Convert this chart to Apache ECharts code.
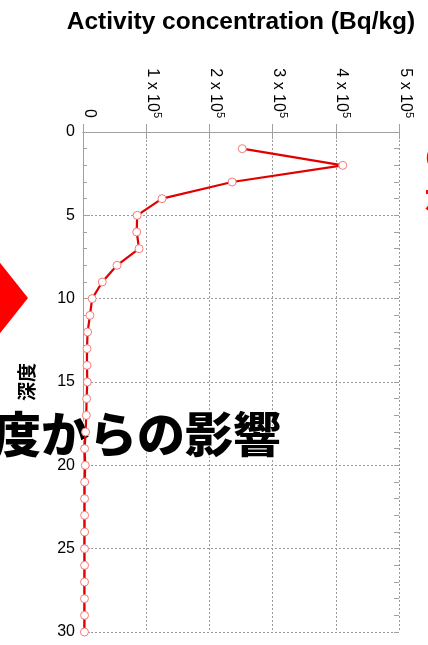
<!DOCTYPE html>
<html>
<head>
<meta charset="utf-8">
<style>
  html, body { margin: 0; padding: 0; background: #fff; }
  #chart { width: 428px; height: 645px; }
</style>
<script src="https://cdn.jsdelivr.net/npm/echarts@6/dist/echarts.min.js"></script>
</head>
<body>
<div id="chart"></div>
<script>
// Depth (sample layer) and activity concentration profile
const depths = [1, 2, 3, 4, 5, 6, 7, 8, 9, 10, 11, 12, 13, 14, 15, 16, 17, 18, 19, 20,
                21, 22, 23, 24, 25, 26, 27, 28, 29, 30];
const activity = [252000, 411000, 236000, 125000, 85700, 85000, 88700, 53800, 30500, 14500,
                  11000, 7300, 6300, 6300, 6800, 5700, 5200, 4100, 2500, 3600,
                  2600, 2500, 2500, 2500, 2400, 2500, 2400, 2300, 2400, 2300];
const xTicks = [0, 100000, 200000, 300000, 400000, 500000];
const yTicks = [0, 5, 10, 15, 20, 25, 30];

const xName = 'Activity concentration (Bq/kg)';
const yName = '深度';
const banner = '度からの影響';

const chart = echarts.init(document.getElementById('chart'), null, { renderer: 'canvas' });

const gray = '#a0a0a0';
const gridLine = { show: true, lineStyle: { color: '#9a9a9a', type: [2, 2], width: 1 } };
const axisGray = { show: true, lineStyle: { color: gray, width: 1 } };
const yMin = yTicks[0], yMax = yTicks[yTicks.length - 1];

function sciLabel(v) {
  if (v === 0) return '{a|0}';
  const m = Math.round(v / 100000);
  return '{a|' + m + ' x 10}{s|5}';
}

// bare tick-only depth axis (ticks every unit, pointing into the plot)
function tickAxis(pos, len) {
  return {
    type: 'value', inverse: true, position: pos, offset: 0,
    min: yMin, max: yMax, interval: 1,
    axisLine: { show: false },
    axisTick: { show: true, inside: true, length: len, lineStyle: { color: gray } },
    axisLabel: { show: false }, splitLine: { show: false }
  };
}

const option = {
  animation: false,
  backgroundColor: '#fff',
  grid: { left: 83, top: 132, right: 29, bottom: 13, containLabel: false },
  xAxis: [
    {
      type: 'value', position: 'top',
      min: xTicks[0], max: xTicks[xTicks.length - 1], interval: 100000,
      name: xName, nameLocation: 'middle', nameGap: 97,
      nameTextStyle: { fontFamily: 'Liberation Sans', fontWeight: 'bold', fontSize: 24.5, color: '#000' },
      axisLine: axisGray,
      axisTick: { show: true, inside: true, length: 7, lineStyle: { color: gray } },
      splitLine: gridLine,
      axisLabel: {
        rotate: -90, margin: 14, formatter: sciLabel, padding: [0, 0, 12, 0],
        rich: {
          a: { fontFamily: 'Liberation Sans', fontSize: 16, color: '#000' },
          s: { fontFamily: 'Liberation Sans', fontSize: 11, color: '#000', padding: [0, 0, 9, 0] }
        }
      }
    },
    {
      type: 'value', position: 'bottom',
      min: xTicks[0], max: xTicks[xTicks.length - 1], interval: 100000,
      axisLine: axisGray,
      axisTick: { show: true, inside: true, length: 8, lineStyle: { color: gray } },
      axisLabel: { show: false }, splitLine: { show: false }
    }
  ],
  yAxis: [
    {
      type: 'value', inverse: true, position: 'left',
      min: yMin, max: yMax, interval: 5,
      name: yName, nameLocation: 'middle', nameGap: 47, nameRotate: 90,
      nameTextStyle: { fontFamily: 'Noto Sans CJK JP', fontWeight: 'bold', fontSize: 19, color: '#000' },
      axisLine: axisGray,
      axisTick: { show: true, inside: true, length: 7, lineStyle: { color: gray } },
      splitLine: gridLine,
      axisLabel: { margin: 8, fontFamily: 'Liberation Sans', fontSize: 16, color: '#000' }
    },
    {
      type: 'value', inverse: true, position: 'right',
      min: yMin, max: yMax, interval: 5,
      axisLine: axisGray,
      axisTick: { show: false },
      axisLabel: { show: false }, splitLine: { show: false }
    },
    tickAxis('left', 4),
    tickAxis('right', 5)
  ],
  graphic: [
    {
      type: 'polygon', z: 1,
      shape: { points: [[28, 298], [-30, 225], [-88, 298], [-30, 371]] },
      style: { fill: '#ff0000' }
    },
    {
      type: 'text', z: 1, left: -8, top: 409,
      style: {
        text: banner, fill: '#000', font: '900 48px "Noto Sans CJK JP"',
        stroke: '#fff', lineWidth: 2
      }
    },
    {
      type: 'text', z: 1, left: 425, top: 135,
      style: {
        text: 'の\n影', fill: '#ff0000', font: '900 36px "Noto Sans CJK JP"', lineHeight: 40
      }
    }
  ],
  series: [
    {
      type: 'line', z: 5,
      xAxisIndex: 0, yAxisIndex: 0,
      data: depths.map((d, i) => [activity[i], d]),
      symbol: 'circle', symbolSize: 8,
      lineStyle: { color: '#e00000', width: 2.2 },
      itemStyle: { color: '#fff', borderColor: '#f47c7c', borderWidth: 1 }
    }
  ]
};

chart.setOption(option);
</script>
</body>
</html>
